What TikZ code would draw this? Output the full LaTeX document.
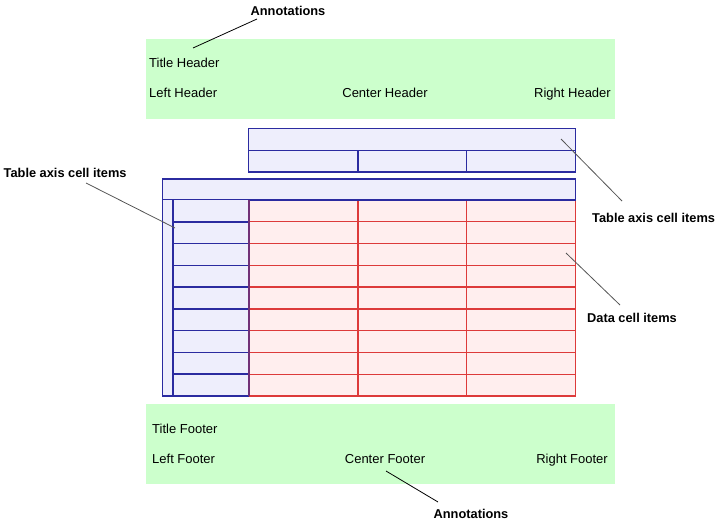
\documentclass[tikz,border=0pt]{standalone}
\usepackage{fontspec}
\setmainfont{Liberation Sans}
\definecolor{bandgreen}{HTML}{CCFFCC}
\definecolor{axisline}{HTML}{2B2BA0}
\definecolor{axisfill}{HTML}{EEEEFC}
\definecolor{dataline}{HTML}{DD3A3A}
\definecolor{datafill}{HTML}{FFEEEE}
\definecolor{leadgray}{HTML}{555555}
\tikzset{
  band/.style={fill=bandgreen, draw=none},
  txt/.style={inner sep=0pt, font=\fontsize{13}{15}\selectfont},
  btxt/.style={inner sep=0pt, font=\fontsize{12.8}{15}\selectfont\bfseries},
  axisbox/.style={fill=axisfill, draw=axisline, line width=1.5pt},
  axisrule/.style={draw=axisline, line width=1.5pt},
  datarule/.style={draw=dataline, line width=1.3pt},
  leader/.style={draw=black, line width=0.8pt},
  grayleader/.style={draw=leadgray, line width=0.8pt}
}
\begin{document}
\begin{tikzpicture}[x=1pt,y=-1pt]
\useasboundingbox (0,0) rectangle (728,521);
% header and footer bands
\fill[band] (146,39) rectangle (615,119);
\fill[band] (146,404) rectangle (615,484);
\node[txt, anchor=base west] (titleh) at (149,68) {Title Header};
\node[txt, anchor=base west] (lefth) at (149,98) {Left Header};
\node[txt, anchor=base] (centerh) at (385,98) {Center Header};
\node[txt, anchor=base east] (righth) at (611,98) {Right Header};
\node[txt, anchor=base west] (titlef) at (152,433) {Title Footer};
\node[txt, anchor=base west] (leftf) at (152,463) {Left Footer};
\node[txt, anchor=base] (centerf) at (385,463) {Center Footer};
\node[txt, anchor=base east] (rightf) at (608,463) {Right Footer};
% top axis table
\draw[axisbox] (248.5,128.5) rectangle (575.5,172);
\draw[axisrule] (248.5,150.5) -- (575.5,150.5);
\draw[axisrule] (358,150.5) -- (358,172);
\draw[axisrule] (466.5,150.5) -- (466.5,172);
% main table: data area
\fill[datafill] (249,200) rectangle (575.5,396);
\foreach \k in {1,...,8} {
  \draw[datarule] (249,{200+\k*21.78}) -- (575.5,{200+\k*21.78});
}
\draw[datarule] (358,200) -- (358,396);
\draw[datarule] (466.5,200) -- (466.5,396);
\draw[datarule] (575.5,200) -- (575.5,396) -- (249,396);
% main table: axis parts
\draw[axisbox] (162.5,179) rectangle (575.5,200);
\fill[axisfill] (162.5,200) rectangle (249,396);
\foreach \k in {1,...,8} {
  \draw[axisrule] (173,{200+\k*21.78}) -- (249,{200+\k*21.78});
}
\draw[axisrule] (162.5,200) -- (162.5,396) -- (249,396);
\draw[axisrule, line width=2pt] (173,200) -- (173,396);
\draw[draw=axisline!60!dataline, line width=1.5pt] (249,200) -- (249,396);
% annotations
\node[btxt, anchor=base] (annTop) at (288,16) {Annotations};
\coordinate (annTopStart) at (257,19);
\coordinate (annTopEnd) at (193,48);
\draw[leader] (annTopStart) -- (annTopEnd);
\node[btxt, anchor=base] (annBot) at (471,518) {Annotations};
\coordinate (annBotEnd) at (386,471);
\coordinate (annBotStart) at (438,502);
\draw[leader] (annBotStart) -- (annBotEnd);
\node[btxt, anchor=base west] (axisL) at (3.5,178) {Table axis cell items};
\coordinate (axisLStart) at (86,183);
\coordinate (axisLEnd) at (175,228);
\draw[grayleader] (axisLStart) -- (axisLEnd);
\node[btxt, anchor=base west] (axisR) at (592,223) {Table axis cell items};
\coordinate (axisRStart) at (622,201);
\coordinate (axisREnd) at (561,139);
\draw[grayleader] (axisRStart) -- (axisREnd);
\node[btxt, anchor=base west] (dataR) at (587,323) {Data cell items};
\coordinate (dataRStart) at (620,305);
\coordinate (dataREnd) at (566,253);
\draw[grayleader] (dataRStart) -- (dataREnd);
\end{tikzpicture}
\end{document}
